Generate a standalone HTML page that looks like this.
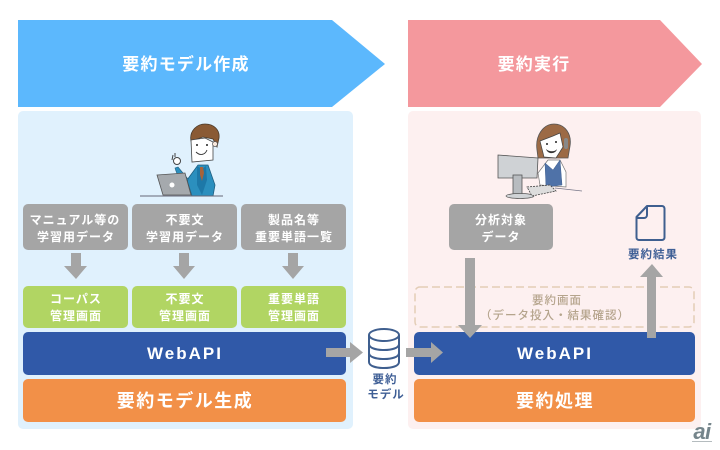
<!DOCTYPE html>
<html lang="ja"><head><meta charset="utf-8"><style>
html,body{margin:0;padding:0;background:#fff}
svg{display:block}
text{font-family:"Liberation Sans","Noto Sans CJK JP",sans-serif;text-anchor:middle;font-weight:700}
.w{fill:#fff;font-size:12px;letter-spacing:1px}
.h{fill:#fff;font-size:17px;letter-spacing:1.2px}
.b{fill:#fff;font-size:17px;letter-spacing:2px}
.o{fill:#fff;font-size:18px;letter-spacing:1.500px}
.l{fill:#3f5f96;font-size:11.500px;letter-spacing:1px}
.d{fill:#b5a48c;font-size:11.500px;font-weight:500;letter-spacing:1px}
</style></head><body>
<svg width="720" height="450" viewBox="0 0 720 450" xmlns="http://www.w3.org/2000/svg">
<rect width="720" height="450" fill="#fff"/>
<polygon points="18,20 332,20 385,64 332,107 18,107" fill="#5cb8fd"/>
<polygon points="408,20 660,20 702,64 660,107 408,107" fill="#f4989d"/>
<text class="h" x="186" y="70">要約モデル作成</text>
<text class="h" x="534" y="70">要約実行</text>
<rect x="18" y="111" width="335" height="318" rx="5" fill="#e0f1fd"/>
<rect x="408" y="111" width="293" height="318" rx="5" fill="#fdf0f0"/>

<!-- man -->
<g>
<path d="M187 180l11-15 10 0 7 20-2 11h-21z" fill="#2b8fbe" stroke="#1f5f80" stroke-width=".8"/>
<path d="M197 166l5 3 4-3 1 14-5 15-5-10z" fill="#1d78a8"/>
<path d="M200 167l3 0 1 6-2 8-2-6z" fill="#a8633a"/>
<path d="M191 141c-2-10 6-17 14-17 9 0 15 6 14 14l-2 9-4-8-10-2z" fill="#8a5a34" stroke="#4a3a2a" stroke-width=".8"/>
<path d="M191 140l14-2 8 4 0 18-21 2z" fill="#fff" stroke="#444" stroke-width=".8"/>
<circle cx="215" cy="144" r="2.500" fill="#f7e8dc" stroke="#555" stroke-width=".7"/>
<circle cx="197" cy="145" r="1" fill="#222"/><circle cx="207" cy="145" r="1" fill="#222"/>
<path d="M196 152c4 4 9 3 11-2" fill="none" stroke="#333" stroke-width=".9"/>
<path d="M175 168l3-1 10 12-1 6c-6-3-10-10-12-17z" fill="#2b8fbe" stroke="#1f5f80" stroke-width=".6"/>
<circle cx="177" cy="161" r="3.500" fill="#fff" stroke="#444"/>
<path d="M172 160l1-5M175 157l0-4" stroke="#444"/>
<polygon points="157,175 185,173 191,195 163,195" fill="#a5a9ad" stroke="#555" stroke-width=".8"/>
<circle cx="172" cy="185" r="2.500" fill="#fff"/>
<line x1="140" y1="196" x2="223" y2="196" stroke="#667" stroke-width="1"/>
</g>

<!-- woman -->
<g>
<path d="M537 150c-2-14 6-26 17-26 11 0 18 10 16 22l-2 12-30 0z" fill="#9c6a45" stroke="#555" stroke-width=".8"/>
<path d="M540 141l13-5 7-3 3 14-7 11-12-1z" fill="#fff" stroke="#444" stroke-width=".7"/>
<circle cx="547" cy="144" r="1" fill="#222"/><circle cx="556" cy="142" r="1" fill="#222"/>
<path d="M546 149c3 3 9 3 11 0-1 5-9 6-11 0z" fill="#333"/>
<rect x="564" y="138" width="4" height="11" rx="2" fill="#888"/>
<path d="M538 173l10-13 12 0 6 12 0 15-26-2z" fill="#fff" stroke="#777" stroke-width=".7"/>
<path d="M545 163l8 7 7-10 2 25-16 2z" fill="#4f72a8" stroke="#3f5f8f" stroke-width=".5"/>
<polygon points="498,155 538,158 537,178 498,178" fill="#cfd2d5" stroke="#555" stroke-width=".8"/>
<rect x="513" y="175" width="9" height="20" fill="#b8bcc0" stroke="#555" stroke-width=".8"/>
<ellipse cx="520" cy="196" rx="14" ry="2.500" fill="#d0d3d6" stroke="#555" stroke-width=".7"/>
<polygon points="527,187 550,185 556,191 532,196" fill="#ddd" stroke="#444" stroke-width=".8" stroke-dasharray="2 1"/>
<line x1="555" y1="188" x2="582" y2="191" stroke="#778" stroke-width=".8"/>
</g>

<!-- grey boxes -->
<g fill="#a5a5a5">
<rect x="23" y="204" width="105" height="46" rx="5"/>
<rect x="132" y="204" width="105" height="46" rx="5"/>
<rect x="241" y="204" width="105" height="46" rx="5"/>
<rect x="449" y="204" width="104" height="46" rx="5"/>
</g>
<text class="w" x="75" y="224">マニュアル等の</text>
<text class="w" x="76" y="241">学習用データ</text>
<text class="w" x="185" y="224">不要文</text>
<text class="w" x="185" y="241">学習用データ</text>
<text class="w" x="294" y="224">製品名等</text>
<text class="w" x="294" y="241">重要単語一覧</text>
<text class="w" x="501" y="224">分析対象</text>
<text class="w" x="501" y="241">データ</text>

<!-- down arrows -->
<g fill="#a5a5a5">
<polygon points="71,253 81,253 81,266 87,266 76,279 64,266 71,266"/>
<polygon points="179,253 189,253 189,266 195,266 184,279 173,266 179,266"/>
<polygon points="288,253 298,253 298,266 304,266 293,279 282,266 288,266"/>
</g>

<!-- green -->
<g fill="#b1d563">
<rect x="23" y="286" width="105" height="42" rx="5"/>
<rect x="132" y="286" width="105" height="42" rx="5"/>
<rect x="241" y="286" width="105" height="42" rx="5"/>
</g>
<text class="w" x="76" y="303">コーパス</text>
<text class="w" x="76" y="320">管理画面</text>
<text class="w" x="185" y="303">不要文</text>
<text class="w" x="185" y="320">管理画面</text>
<text class="w" x="294" y="303">重要単語</text>
<text class="w" x="294" y="320">管理画面</text>

<!-- dashed -->
<rect x="415" y="287" width="279" height="40" rx="5" fill="none" stroke="#e3cdb6" stroke-width="1.500" stroke-dasharray="8 4"/>
<text class="d" x="557" y="304">要約画面</text>
<text class="d" x="555" y="319">（データ投入・結果確認）</text>

<!-- blue and orange -->
<rect x="23" y="332" width="323" height="43" rx="5" fill="#3059a8"/>
<rect x="414" y="332" width="281" height="43" rx="5" fill="#3059a8"/>
<rect x="23" y="379" width="323" height="43" rx="5" fill="#f29048"/>
<rect x="414" y="379" width="281" height="43" rx="5" fill="#f29048"/>
<text class="b" x="185" y="359">WebAPI</text>
<text class="b" x="555" y="359">WebAPI</text>
<text class="o" x="185" y="407">要約モデル生成</text>
<text class="o" x="555" y="407">要約処理</text>

<!-- vertical arrows -->
<polygon points="465,258 475,258 475,325 482,325 470,338 458,325 465,325" fill="#a5a5a5"/>
<polygon points="647,338 656,338 656,277 663,277 652,264 640,277 647,277" fill="#a5a5a5"/>

<!-- horizontal arrows -->
<polygon points="326,348 350,348 350,342 363,352.500 350,363 350,357 326,357" fill="#a5a5a5"/>
<polygon points="406,348 431,348 431,342 443,352.500 431,363 431,357 406,357" fill="#a5a5a5"/>

<!-- database -->
<g fill="none" stroke="#3f5f8f" stroke-width="2">
<ellipse cx="384" cy="335" rx="15" ry="6"/>
<path d="M369 335v27c0 4 7 6 15 6s15-2 15-6v-27"/>
<path d="M369 344c0 4 7 6 15 6s15-2 15-6"/>
<path d="M369 353c0 4 7 6 15 6s15-2 15-6"/>
</g>
<text class="l" x="385" y="383">要約</text>
<text class="l" x="386" y="398">モデル</text>

<!-- document icon -->
<path d="M647 206h15a2.500 2.500 0 0 1 2.500 2.500v29a2.500 2.500 0 0 1-2.500 2.500h-23a2.500 2.500 0 0 1-2.500-2.500v-20.500z" fill="#fdf0f0" stroke="#3f5f8f" stroke-width="2" stroke-linejoin="round"/>
<path d="M647 206v9a3 3 0 0 1-3 3h-7" fill="none" stroke="#3f5f8f" stroke-width="2"/>
<text class="l" x="653" y="258">要約結果</text>

<!-- logo -->
<text x="702" y="439" style="font-family:'Liberation Sans',sans-serif;font-style:italic;font-size:22px;fill:#75858b;font-weight:700;letter-spacing:-.5px">ai</text>
<rect x="692" y="441" width="20" height="1" fill="#b5bcbf"/>
</svg>
</body></html>
